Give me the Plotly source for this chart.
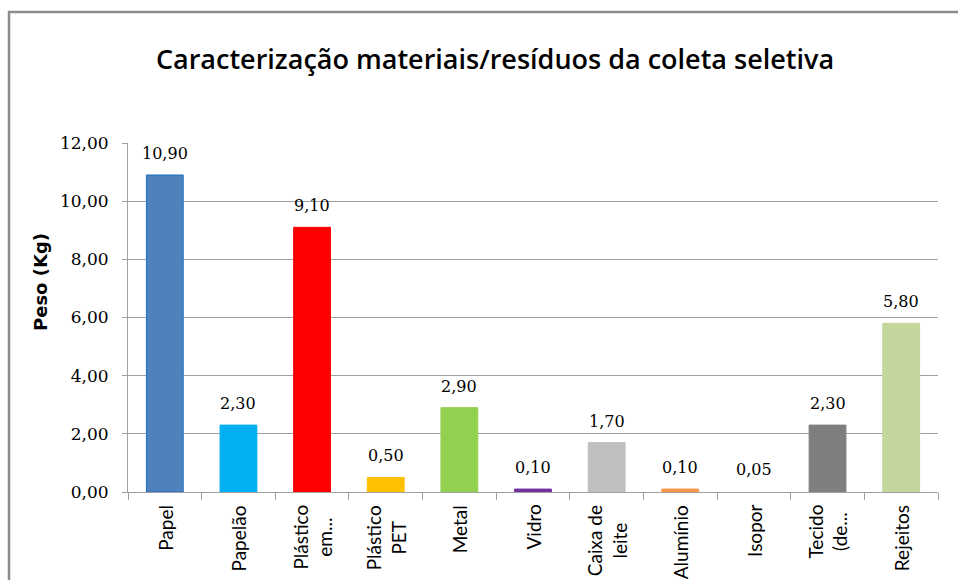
import plotly.graph_objects as go

categories = ["Papel", "Papelão", "Plástico<br>em...", "Plástico<br>PET", "Metal", "Vidro",
              "Caixa de<br>leite", "Alumínio", "Isopor", "Tecido<br>(de...", "Rejeitos"]
values = [10.90, 2.30, 9.10, 0.50, 2.90, 0.10, 1.70, 0.10, 0.05, 2.30, 5.80]
colors = ["#4F81BD", "#00B0F0", "#FF0000", "#FFC000", "#92D050", "#7030A0",
          "#BFBFBF", "#F79646", "#FFFFFF", "#7F7F7F", "#C3D69B"]
line_colors = ["#1F6FC4", "#00B0F0", "#FF0000", "#FFC000", "#92D050", "#7030A0",
               "#BFBFBF", "#F79646", "#FFFFFF", "#7F7F7F", "#C3D69B"]
y_ticks = [0, 2, 4, 6, 8, 10, 12]

W, H = 958, 580
L, R, T, B = 128, 20, 143, 88
pw, ph = W - L - R, H - T - B

fig = go.Figure()
fig.add_trace(go.Bar(
    x=categories, y=values, width=0.5,
    marker=dict(color=colors, line=dict(color=line_colors, width=1)),
    showlegend=False, hoverinfo="skip",
))

label_font = dict(family="DejaVu Serif", size=16, color="#000000")
cat_font = dict(family="Lato", size=19, color="#000000")
annotations = []
for c, v in zip(categories, values):
    annotations.append(dict(x=c, y=v, xref="x", yref="y", text=f"{v:.2f}".replace(".", ","),
                            showarrow=False, yanchor="bottom", yshift=10, font=label_font))
    # category label, rotated, centred lines
    annotations.append(dict(x=c, y=0, xref="x", yref="paper", text=c, showarrow=False,
                            textangle=-90, align="center", xanchor="center", yanchor="top",
                            yshift=-11, font=cat_font))

annotations.append(dict(text="<b>Peso (Kg)</b>", xref="paper", yref="paper",
                        x=(40 - L) / pw, y=(H - B - 282) / ph, showarrow=False,
                        xanchor="center", yanchor="middle",
                        textangle=-90, font=dict(family="DejaVu Sans", size=18, color="#000000")))

fig.update_layout(
    width=W, height=H,
    margin=dict(l=L, r=R, t=T, b=B, autoexpand=False),
    paper_bgcolor="white", plot_bgcolor="white",
    separators=",.",
    title=dict(text="Caracterização materiais/resíduos da coleta seletiva",
               x=495 / W, xanchor="center", y=1 - 60 / H, yanchor="middle", xref="container", yref="container",
               font=dict(family="Open Sans", size=27, weight=600, color="#000000")),
    annotations=annotations,
    bargap=0.5,
    shapes=[dict(type="rect", xref="paper", yref="paper",
                 x0=(9 - L) / pw, x1=(W + 20 - L) / pw,
                 y0=(H - B - (H + 20)) / ph, y1=(H - B - 12) / ph,
                 line=dict(color="#8C8C8C", width=2.5), layer="below")],
)

fig.update_xaxes(
    type="category", tickson="boundaries", ticks="outside", ticklen=7, showticklabels=False,
    tickcolor="#A0A0A0", showline=True, linecolor="#A0A0A0", linewidth=1, automargin=False,
    showgrid=False,
)
fig.update_yaxes(
    range=[0, 12], tickvals=y_ticks, tickformat=".2f", ticks="outside", ticklen=5,
    tickcolor="#A0A0A0", showline=True, linecolor="#A0A0A0", linewidth=1, automargin=False,
    showgrid=True, gridcolor="#A0A0A0", gridwidth=1, zeroline=False,
    tickfont=dict(family="DejaVu Serif", size=17, color="#000000"), ticklabelstandoff=10,
)

fig.write_html("out.html", config={"displayModeBar": False},
               post_script="document.body.style.margin='0';")
